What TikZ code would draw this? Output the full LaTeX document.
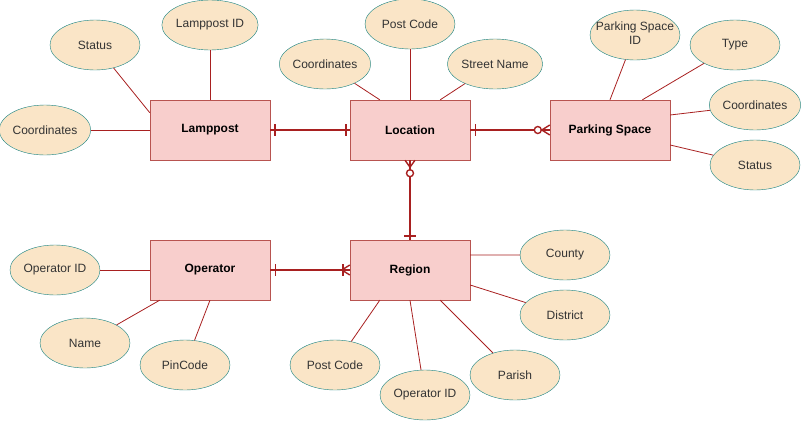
\documentclass[tikz,border=0pt]{standalone}
\usepackage{fontspec}
\setmainfont{Liberation Sans}
\usetikzlibrary{shapes.geometric}
\definecolor{entfill}{HTML}{F8CECC}
\definecolor{entline}{HTML}{B85450}
\definecolor{attfill}{HTML}{FAE5C7}
\definecolor{attline}{HTML}{12807F}
\definecolor{conn}{HTML}{A82020}
\definecolor{txt}{HTML}{333333}
\begin{document}
\begin{tikzpicture}[x=1pt,y=-1pt,
 entity/.style={rectangle,draw=entline,fill=entfill,minimum width=120pt,minimum height=60pt,inner sep=0pt,font=\fontsize{12}{14}\selectfont\bfseries},
 attr/.style={ellipse,draw=attline,fill=attfill,minimum width=90pt,minimum height=50pt,inner sep=0pt,font=\fontsize{12}{14}\selectfont,text=txt,align=center},
 link/.style={draw=conn,line width=0.8pt},
 rel/.style={draw=conn,line width=1.4pt}]
\useasboundingbox (0,0) rectangle (801,421);

% entities
\node[entity] (lamp) at (210,130) {Lamppost};
\node[entity] (loc)  at (410,130) {Location};
\node[entity] (ps)   at (610,130) {Parking Space};
\node[entity] (op)   at (210,270) {Operator};
\node[entity] (reg)  at (410,270) {Region};

% attributes
\node[attr] (lstatus) at (95,45)  {Status};
\node[attr] (lid)     at (210,25) {Lamppost ID};
\node[attr] (lcoord)  at (45,130) {Coordinates};
\node[attr] (loccoord) at (325,64) {Coordinates};
\node[attr] (locpc)   at (410,24) {Post Code};
\node[attr] (locst)   at (495,64) {Street Name};
\node[attr] (psid)    at (635,35) {\makebox[40pt][c]{\begin{tabular}{@{}c@{}}Parking Space\\ID\end{tabular}}};
\node[attr] (pstype)  at (735,45) {Type};
\node[attr] (pscoord) at (755,105) {Coordinates};
\node[attr] (psstatus) at (755,165) {Status};
\node[attr] (opid)    at (55,270) {Operator ID};
\node[attr] (opname)  at (85,343) {Name};
\node[attr] (oppin)   at (185,365) {PinCode};
\node[attr] (rcounty) at (565,255) {County};
\node[attr] (rdist)   at (565,315) {District};
\node[attr] (rpc)     at (335,365) {Post Code};
\node[attr] (ropid)   at (425,395) {Operator ID};
\node[attr] (rparish) at (515,375) {Parish};

% attribute links
\draw[link] (lstatus) -- (lamp.164);
\draw[link] (lid) -- (lamp.north);
\draw[link] (lcoord) -- (lamp.west);
\draw[link] (loccoord) -- (loc.135);
\draw[link] (locpc) -- (loc.north);
\draw[link] (locst) -- (loc.45);
\draw[link] (psid) -- (ps.north);
\draw[link] (pstype) -- (ps.43);
\draw[link] (pscoord) -- (ps.14);
\draw[link] (psstatus) -- (ps.-14);
\draw[link] (opid) -- (op.west);
\draw[link] (opname) -- (op.211);
\draw[link] (oppin) -- (op.south);
\draw[link] (rcounty) -- (reg.14);
\draw[link] (rdist) -- (reg.-14);
\draw[link] (rpc) -- (reg.225);
\draw[link] (ropid) -- (reg.south);
\draw[link] (rparish) -- (reg.315);

% Lamppost -- Location (one to one)
\draw[rel,line width=2pt] (lamp) -- (loc);
\draw[rel,line width=2pt] ([xshift=5pt]lamp.east) ++(0,-6) -- ++(0,12);
\draw[rel,line width=2pt] ([xshift=-4pt]loc.west) ++(0,-6) -- ++(0,12);

% Location -- Parking Space (one to zero-or-many)
\draw[rel] (loc) -- (ps);
\draw[rel] ([xshift=5pt]loc.east) ++(0,-6) -- ++(0,12);
\draw[rel] ([xshift=-8pt]ps.west) -- ++(8,-5) ([xshift=-8pt]ps.west) -- ++(8,5);
\draw[rel,fill=white] ([xshift=-12pt]ps.west) circle[radius=3.5];

% Location -- Region (zero-or-many to one)
\draw[rel] (loc) -- (reg);
\draw[rel] ([yshift=-7pt]loc.south) -- ++(-5,-7) ([yshift=-7pt]loc.south) -- ++(5,-7);
\draw[rel,fill=white] ([yshift=-13pt]loc.south) circle[radius=3.5];
\draw[rel] ([yshift=4pt]reg.north) ++(-6,0) -- ++(12,0);

% Operator -- Region (one to one-or-many)
\draw[rel] (op) -- (reg);
\draw[rel] ([xshift=5pt]op.east) ++(0,-6) -- ++(0,12);
\draw[rel] ([xshift=-8pt]reg.west) -- ++(8,-5) ([xshift=-8pt]reg.west) -- ++(8,5);
\draw[rel] ([xshift=-7pt]reg.west) ++(0,-6) -- ++(0,12);
\end{tikzpicture}
\end{document}
